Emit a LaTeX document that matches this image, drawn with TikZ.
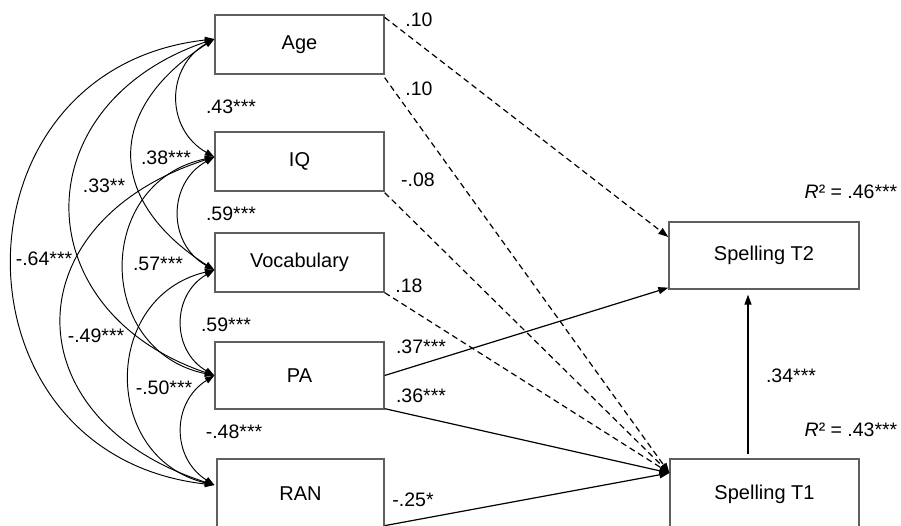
\documentclass[tikz,border=0pt]{standalone}
\usepackage{fontspec}
\setmainfont{Liberation Sans}
\usetikzlibrary{arrows.meta,calc}
\definecolor{boxgray}{RGB}{95,95,95}
\begin{document}
\begin{tikzpicture}[x=1pt,y=-1pt,
  box/.style={draw=boxgray,line width=1.3pt,rectangle,inner sep=0pt,font=\fontsize{20}{24}\selectfont},
  lbl/.style={inner sep=0pt,font=\fontsize{19.5}{23}\selectfont},
  cov/.style={line width=0.95pt,{Triangle[length=9.5pt,width=6.5pt]}-{Triangle[length=9.5pt,width=6.5pt]}},
  path/.style={line width=1.2pt,-{Triangle[length=10pt,width=7pt]}},
  dpath/.style={path,dash pattern=on 6pt off 4pt}]
\useasboundingbox (0,0) rectangle (901,526);
\clip (0,0) rectangle (901,526);
% boxes
\node[box,minimum width=169pt,minimum height=59pt] (age) at (299.5,44.5) {Age};
\node[box,minimum width=169pt,minimum height=59pt] (iq) at (299.5,161.5) {IQ};
\node[box,minimum width=169pt,minimum height=59pt] (voc) at (299.5,262.5) {Vocabulary};
\node[box,minimum width=169pt,minimum height=67pt] (pa) at (299.5,375.5) {PA};
\node[box,minimum width=167pt,minimum height=70pt] (ran) at (300.5,494) {RAN};
\node[box,minimum width=190pt,minimum height=67pt] (t2) at (764,255.5) {Spelling T2};
\node[box,minimum width=189pt,minimum height=70pt] (t1) at (764.5,494) {Spelling T1};
% anchor points
\coordinate (ageL) at ($(age.west)+(0,-5.5)$);
\coordinate (iqL) at ($(iq.west)+(0,-4.5)$);
\coordinate (vocL) at ($(voc.west)+(0,7.5)$);
\coordinate (paL) at (pa.west);
\coordinate (ranL) at ($(ran.west)+(-2,-9)$);
\coordinate (t1in) at ($(t1.west)+(0,-21)$);
\coordinate (t2inA) at ($(t2.west)+(0,-18.5)$);
\coordinate (t2inB) at ($(t2.south west)+(0,-2)$);
% covariances
\draw[cov] (ageL) .. controls +(-49,28) and +(-49,-28) .. (iqL);
\draw[cov] (iqL) .. controls +(-47,26) and +(-47,-26) .. (vocL);
\draw[cov] (vocL) .. controls +(-43,25) and +(-43,-25) .. (paL);
\draw[cov] (paL) .. controls +(-43,27) and +(-43,-27) .. (ranL);
\draw[cov] (ageL) .. controls +(-109,70) and +(-109,-70) .. (vocL);
\draw[cov] (ageL) .. controls +(-191,65) and +(-191,-65) .. (paL);
\draw[cov] (ageL) .. controls +(-269,30) and +(-269,-30) .. (ranL);
\draw[cov] (iqL) .. controls +(-120,25) and +(-120,-25) .. (paL);
\draw[cov] (iqL) .. controls +(-203,65) and +(-203,-65) .. (ranL);
\draw[cov] (vocL) .. controls +(-113,27) and +(-113,-27) .. (ranL);
% paths
\draw[dpath] ($(age.north east)+(0,3)$) -- (t2inA);
\draw[dpath] ($(age.south east)+(0,3)$) -- (t1in);
\draw[dpath] ($(iq.south east)+(0,1)$) -- (t1in);
\draw[dpath] (voc.south east) -- (t1in);
\draw[path] (pa.east) -- (t2inB);
\draw[path] ($(pa.south east)+(0,-1)$) -- (t1in);
\draw[path] ($(ran.south east)+(0,-4)$) -- (t1in);
\draw[path] ($(t1.north)+(-16.5,-4)$) -- ($(t2.south)+(-16,5)$);
% labels
\node[lbl] (l1) at (231,107) {.43***};
\node[lbl] (l2) at (166,158) {.38***};
\node[lbl] (l3) at (104,186) {.33**};
\node[lbl] (l4) at (231,214) {.59***};
\node[lbl] (l5) at (44,259) {-.64***};
\node[lbl] (l6) at (158,264) {.57***};
\node[lbl] (l7) at (226,325) {.59***};
\node[lbl] (l8) at (96,336) {-.49***};
\node[lbl] (l9) at (164,388) {-.50***};
\node[lbl] (l10) at (234,432) {-.48***};
\node[lbl] (l11) at (419,20) {.10};
\node[lbl] (l12) at (419,89) {.10};
\node[lbl] (l13) at (418,180) {-.08};
\node[lbl] (l14) at (409,286) {.18};
\node[lbl] (l15) at (421,347) {.37***};
\node[lbl] (l16) at (421,396) {.36***};
\node[lbl] (l17) at (413,500) {-.25*};
\node[lbl] (l18) at (791,376) {.34***};
\node[lbl] (r2a) at (851,192) {\textit{R}² = .46***};
\node[lbl] (r2b) at (851,430) {\textit{R}² = .43***};
\end{tikzpicture}
\end{document}
